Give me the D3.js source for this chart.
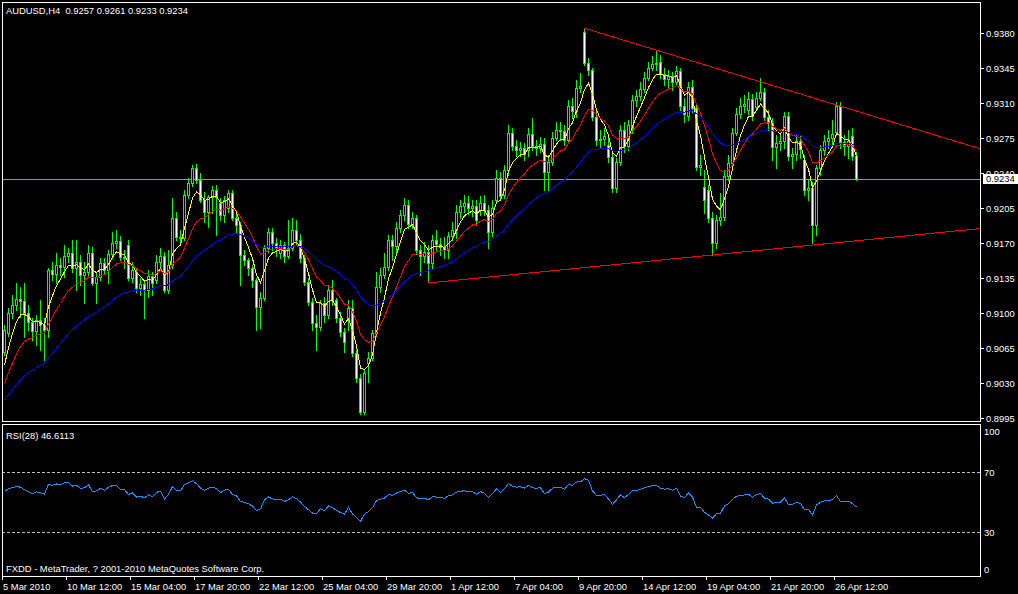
<!DOCTYPE html>
<html><head><meta charset="utf-8">
<script src="https://cdn.jsdelivr.net/npm/d3@7"></script>
<style>
html,body{margin:0;padding:0;background:#000;overflow:hidden}
svg{display:block}
text{font-family:"Liberation Sans",Arial,sans-serif;font-size:9.4px;fill:#fff}
</style></head><body>
<svg id="chart" width="1018" height="594"></svg>
<script>
// ---------------- data ----------------
const headerText = "AUDUSD,H4  0.9257 0.9261 0.9233 0.9234";
const rsiText = "RSI(28) 46.6113";
const footerText = "FXDD - MetaTrader, ? 2001-2010 MetaQuotes Software Corp.";

const opens = [
.9061,.9080,.9100,.9108,.9114,.9112,.9100,.9091,.9082,.9093,
.9088,.9083,.9143,.9139,.9148,.9146,.9157,.9160,.9145,.9151,
.9138,.9141,.9160,.9130,.9136,.9150,.9143,.9159,.9170,.9172,
.9156,.9168,.9135,.9141,.9125,.9129,.9123,.9137,.9133,.9151,
.9157,.9123,.9148,.9195,.9176,.9175,.9218,.9230,.9245,.9233,
.9213,.9201,.9216,.9223,.9210,.9198,.9205,.9220,.9195,.9188,
.9158,.9153,.9145,.9133,.9106,.9115,.9165,.9181,.9170,.9160,
.9168,.9157,.9165,.9183,.9173,.9155,.9131,.9111,.9090,.9086,
.9110,.9098,.9123,.9113,.9095,.9081,.9093,.9105,.9060,.9035,
.9001,.9050,.9055,.9080,.9126,.9138,.9146,.9173,.9167,.9185,
.9198,.9208,.9189,.9195,.9163,.9157,.9161,.9150,.9173,.9169,
.9166,.9163,.9177,.9183,.9201,.9207,.9210,.9205,.9207,.9203,
.9210,.9203,.9181,.9213,.9235,.9218,.9243,.9280,.9267,.9263,
.9265,.9263,.9279,.9267,.9265,.9269,.9241,.9251,.9275,.9283,
.9282,.9273,.9307,.9302,.9325,.9381,.9350,.9343,.9296,.9273,
.9274,.9268,.9256,.9225,.9251,.9283,.9267,.9285,.9313,.9317,
.9324,.9335,.9345,.9349,.9351,.9339,.9334,.9337,.9331,.9342,
.9307,.9297,.9326,.9305,.9246,.9226,.9223,.9195,.9170,.9193,
.9196,.9237,.9250,.9280,.9299,.9307,.9303,.9314,.9306,.9315,
.9321,.9296,.9290,.9266,.9270,.9272,.9297,.9257,.9259,.9272,
.9253,.9223,.9225,.9188,.9245,.9263,.9272,.9275,.9281,.9307,
.9271,.9267,.9277,.9257];

const highs = [
.9088,.9105,.9118,.9130,.9126,.9130,.9108,.9095,.9098,.9113,
.9095,.9145,.9151,.9160,.9155,.9168,.9165,.9173,.9173,.9158,
.9151,.9168,.9166,.9141,.9155,.9155,.9163,.9181,.9183,.9177,
.9163,.9173,.9151,.9145,.9135,.9133,.9143,.9141,.9158,.9165,
.9161,.9163,.9215,.9201,.9183,.9223,.9235,.9248,.9249,.9240,
.9221,.9218,.9227,.9228,.9215,.9217,.9223,.9223,.9201,.9191,
.9163,.9155,.9148,.9135,.9121,.9168,.9185,.9185,.9175,.9173,
.9171,.9193,.9195,.9193,.9179,.9158,.9135,.9115,.9098,.9113,
.9116,.9128,.9133,.9115,.9101,.9085,.9113,.9113,.9063,.9039,
.9043,.9061,.9083,.9141,.9145,.9160,.9178,.9178,.9191,.9203,
.9215,.9213,.9201,.9198,.9168,.9171,.9168,.9178,.9183,.9175,
.9176,.9181,.9191,.9208,.9213,.9218,.9217,.9213,.9213,.9217,
.9218,.9208,.9213,.9243,.9241,.9248,.9288,.9285,.9273,.9271,
.9270,.9285,.9295,.9273,.9276,.9275,.9258,.9281,.9291,.9291,
.9288,.9313,.9315,.9333,.9340,.9385,.9355,.9345,.9303,.9283,
.9285,.9275,.9263,.9255,.9288,.9291,.9293,.9318,.9323,.9331,
.9341,.9351,.9357,.9363,.9358,.9345,.9343,.9341,.9347,.9345,
.9315,.9331,.9333,.9308,.9258,.9243,.9228,.9201,.9198,.9220,
.9243,.9258,.9285,.9305,.9315,.9318,.9321,.9319,.9321,.9335,
.9325,.9303,.9295,.9278,.9278,.9301,.9301,.9265,.9278,.9278,
.9258,.9233,.9231,.9248,.9268,.9278,.9283,.9293,.9311,.9311,
.9278,.9283,.9285,.9261];

const lows = [
.9058,.9077,.9095,.9103,.9096,.9076,.9083,.9073,.9068,.9063,
.9053,.9076,.9133,.9130,.9138,.9136,.9151,.9141,.9123,.9128,
.9110,.9136,.9128,.9110,.9133,.9139,.9130,.9155,.9165,.9153,
.9145,.9133,.9131,.9121,.9118,.9095,.9116,.9118,.9130,.9147,
.9121,.9120,.9145,.9173,.9168,.9173,.9215,.9227,.9230,.9211,
.9191,.9186,.9200,.9178,.9193,.9191,.9201,.9193,.9181,.9128,
.9148,.9138,.9126,.9083,.9085,.9113,.9161,.9163,.9157,.9155,
.9151,.9155,.9163,.9168,.9151,.9128,.9108,.9083,.9063,.9083,
.9091,.9095,.9108,.9091,.9077,.9061,.9083,.9057,.9031,.8999,
.8999,.9031,.9053,.9077,.9121,.9135,.9143,.9153,.9161,.9181,
.9193,.9185,.9185,.9159,.9138,.9151,.9131,.9145,.9163,.9158,
.9155,.9155,.9173,.9175,.9195,.9201,.9199,.9197,.9188,.9198,
.9198,.9165,.9177,.9210,.9213,.9215,.9238,.9263,.9257,.9257,
.9253,.9257,.9263,.9258,.9261,.9223,.9223,.9248,.9273,.9273,
.9268,.9270,.9295,.9296,.9321,.9348,.9338,.9293,.9268,.9265,
.9268,.9251,.9221,.9221,.9248,.9261,.9263,.9280,.9307,.9313,
.9321,.9333,.9343,.9343,.9335,.9328,.9325,.9323,.9328,.9303,
.9291,.9293,.9301,.9243,.9238,.9200,.9191,.9158,.9165,.9188,
.9193,.9233,.9248,.9278,.9295,.9301,.9299,.9293,.9303,.9313,
.9293,.9283,.9253,.9245,.9263,.9265,.9253,.9245,.9253,.9255,
.9218,.9213,.9170,.9178,.9238,.9258,.9265,.9268,.9278,.9265,
.9258,.9255,.9253,.9233];

const closes = [
.9083,.9100,.9108,.9114,.9112,.9100,.9091,.9082,.9093,.9088,
.9083,.9143,.9139,.9148,.9146,.9157,.9160,.9145,.9151,.9138,
.9141,.9160,.9130,.9136,.9150,.9143,.9159,.9170,.9172,.9156,
.9155,.9135,.9143,.9125,.9129,.9123,.9137,.9130,.9151,.9157,
.9123,.9148,.9195,.9176,.9175,.9218,.9230,.9245,.9233,.9213,
.9201,.9216,.9223,.9216,.9198,.9213,.9220,.9195,.9188,.9158,
.9153,.9145,.9133,.9106,.9115,.9165,.9181,.9170,.9165,.9168,
.9157,.9165,.9183,.9173,.9155,.9131,.9111,.9090,.9086,.9110,
.9098,.9123,.9113,.9095,.9081,.9071,.9105,.9060,.9035,.9001,
.9040,.9055,.9080,.9126,.9138,.9146,.9173,.9167,.9185,.9198,
.9208,.9189,.9195,.9163,.9157,.9161,.9150,.9173,.9169,.9166,
.9163,.9177,.9183,.9201,.9207,.9210,.9205,.9207,.9193,.9210,
.9203,.9181,.9205,.9235,.9217,.9243,.9280,.9267,.9263,.9265,
.9259,.9279,.9267,.9265,.9269,.9241,.9251,.9275,.9283,.9282,
.9273,.9307,.9302,.9325,.9327,.9350,.9343,.9296,.9273,.9274,
.9277,.9256,.9225,.9251,.9283,.9267,.9288,.9313,.9317,.9324,
.9335,.9345,.9349,.9350,.9339,.9334,.9337,.9331,.9342,.9307,
.9299,.9326,.9305,.9246,.9248,.9213,.9195,.9170,.9193,.9196,
.9237,.9250,.9280,.9299,.9307,.9309,.9314,.9297,.9315,.9321,
.9296,.9290,.9266,.9270,.9272,.9297,.9257,.9259,.9272,.9264,
.9223,.9225,.9188,.9245,.9263,.9272,.9275,.9279,.9307,.9271,
.9267,.9272,.9257,.9234];

const timeLabels = ["5 Mar 2010","10 Mar 12:00","15 Mar 04:00","17 Mar 20:00","22 Mar 12:00",
  "25 Mar 04:00","29 Mar 20:00","1 Apr 12:00","7 Apr 04:00","9 Apr 20:00","14 Apr 12:00",
  "19 Apr 04:00","21 Apr 20:00","26 Apr 12:00"];
const priceTicks = [0.8995,0.9030,0.9065,0.9100,0.9135,0.9170,0.9205,0.9240,0.9275,0.9310,0.9345,0.9380];
const rsiTicks = [100,70,30,0];
const rsiLevels = [70,30];
const rsiPeriod = 28;
const rsiStart = 57;          // RSI value at the first visible bar
const maPeriods = [5,13,34];  // yellow, red, blue
const maStarts = [0.9048,0.9030,0.9013]; // MA values at the first visible bar
const maColors = ["#ffff00","#ff0000","#0000ff"];
const lastPrice = 0.9234;
const upperTrend = [[145,0.9385],[209,0.9307]];
const lowerTrend = [[106,0.9130],[177,0.9158]];

// ---------------- layout ----------------
const svg = d3.select("#chart").attr("shape-rendering","crispEdges");
svg.append("rect").attr("width",1018).attr("height",594).attr("fill","#000");
const N = closes.length;
const L = 2, R = 980, mainTop = 2, mainBot = 421, rsiTop = 424, rsiBot = 576;
const barsPerLabel = 16;

const x = d3.scaleLinear().domain([0, N-1]).range([4, 4 + 4*(N-1)]);
const y = d3.scaleLinear().domain([0.8995, 0.9380]).range([418, 33]);
const ry = d3.scaleLinear().domain([0, 100]).range([576.7, 426.7]);
const xEnd = x.invert(R);

svg.append("defs").append("clipPath").attr("id","mainClip")
  .append("rect").attr("x",L+1).attr("y",mainTop+1).attr("width",R-L-1).attr("height",mainBot-mainTop-1);
svg.select("defs").append("clipPath").attr("id","rsiClip")
  .append("rect").attr("x",L+1).attr("y",rsiTop+1).attr("width",R-L-1).attr("height",rsiBot-rsiTop-1);

const mainG = svg.append("g").attr("clip-path","url(#mainClip)");

// current price line
const lpY = Math.round(y(lastPrice)) + 0.5;
mainG.append("line").attr("x1",L).attr("x2",R).attr("y1",lpY).attr("y2",lpY)
  .attr("stroke","#8a95a0").attr("stroke-width",1);

// candles
const bars = d3.range(N);
const bodyTop = i => Math.round(y(Math.max(opens[i],closes[i])));
const bodyBot = i => Math.round(y(Math.min(opens[i],closes[i])));
const cg = mainG.append("g");
cg.selectAll("rect.wick").data(bars).join("rect").attr("class","wick")
  .attr("x", i => Math.round(x(i))).attr("width",1)
  .attr("y", i => Math.round(y(highs[i])))
  .attr("height", i => Math.round(y(lows[i])) - Math.round(y(highs[i])) + 1)
  .attr("fill","#00ff00");
cg.selectAll("rect.body").data(bars).join("rect").attr("class","body")
  .attr("x", i => Math.round(x(i)) - 1).attr("width",3)
  .attr("y", bodyTop).attr("height", i => bodyBot(i) - bodyTop(i) + 1)
  .attr("fill","#00ff00");
cg.selectAll("rect.fill").data(bars.filter(i => bodyBot(i) - bodyTop(i) >= 2))
  .join("rect").attr("class","fill")
  .attr("x", i => Math.round(x(i))).attr("width",1)
  .attr("y", i => bodyTop(i) + 1).attr("height", i => bodyBot(i) - bodyTop(i) - 1)
  .attr("fill", i => closes[i] >= opens[i] ? "#000000" : "#ffffff");

// moving averages (exponential, started from the value shown at the first bar)
function ema(vals, period, start){
  const a = 2/(period+1); const out = [start];
  for(let i=1;i<vals.length;i++) out.push(out[i-1] + a*(vals[i]-out[i-1]));
  return out;
}
const maLine = d3.line().x((d,i) => Math.round(x(i)) + 0.5).y(d => y(d));
maPeriods.forEach((p,k) => {
  mainG.append("path").datum(ema(closes,p,maStarts[k]))
    .attr("d", maLine).attr("fill","none").attr("stroke",maColors[k]).attr("stroke-width",1);
});

// trend lines (rays to the right edge)
function ray(pts){
  const [[i0,p0],[i1,p1]] = pts; const s = (p1-p0)/(i1-i0);
  return [[x(i0), y(p0)], [x(xEnd), y(p0 + s*(xEnd - i0))]];
}
[upperTrend, lowerTrend].forEach(t => {
  const r = ray(t);
  mainG.append("line").attr("x1",r[0][0]).attr("y1",r[0][1]).attr("x2",r[1][0]).attr("y2",r[1][1])
    .attr("stroke","#ff0000").attr("stroke-width",1);
});

// RSI
function rsi(vals, period, start){
  let m = 0; for(let i=1;i<vals.length;i++) m += Math.abs(vals[i]-vals[i-1]); m /= (vals.length-1);
  let g = m*start/100, l = m*(1-start/100); const out=[start];
  for(let i=1;i<vals.length;i++){
    const d = vals[i]-vals[i-1];
    g = (g*(period-1) + Math.max(d,0))/period;
    l = (l*(period-1) + Math.max(-d,0))/period;
    out.push(100*g/(g+l));
  }
  return out;
}
const rg = svg.append("g").attr("clip-path","url(#rsiClip)");
rsiLevels.forEach(v => {
  const yy = Math.round(ry(v)) + 0.5;
  rg.append("line").attr("x1",L).attr("x2",R).attr("y1",yy).attr("y2",yy)
    .attr("stroke","#c0c0c0").attr("stroke-dasharray","3,2");
});
rg.append("path").datum(rsi(closes, rsiPeriod, rsiStart))
  .attr("d", d3.line().x((d,i) => Math.round(x(i)) + 0.5).y(d => ry(d)))
  .attr("fill","none").attr("stroke","#1e90ff").attr("stroke-width",1);

// frames
svg.append("rect").attr("x",L+0.5).attr("y",mainTop+0.5).attr("width",R-L).attr("height",mainBot-mainTop)
  .attr("fill","none").attr("stroke","#fff");
svg.append("rect").attr("x",L+0.5).attr("y",rsiTop+0.5).attr("width",R-L).attr("height",rsiBot-rsiTop)
  .attr("fill","none").attr("stroke","#fff");

// price axis
const pa = svg.append("g");
priceTicks.forEach(p => {
  const yy = Math.round(y(p)) + 0.5;
  pa.append("line").attr("x1",R).attr("x2",R+4).attr("y1",yy).attr("y2",yy).attr("stroke","#fff");
  pa.append("text").attr("x",R+6).attr("y",yy).attr("dy","0.35em").text(p.toFixed(4));
});
const boxY = Math.round(y(lastPrice));
pa.append("rect").attr("x",R+3).attr("y",boxY-5).attr("width",35).attr("height",10).attr("fill","#fff");
pa.append("text").attr("x",R+6).attr("y",boxY).attr("dy","0.35em").style("fill","#000").text(lastPrice.toFixed(4));

// RSI axis
rsiTicks.forEach(v => {
  const yy = v === 100 ? rsiTop + 8 : v === 0 ? rsiBot - 6 : Math.round(ry(v)) + 0.5;
  svg.append("text").attr("x",R+4).attr("y",yy).attr("dy","0.35em").text(String(v));
});

// time axis
timeLabels.forEach((t,k) => {
  const xx = Math.round(x(k*barsPerLabel)) - 1.5;
  svg.append("line").attr("x1",xx).attr("x2",xx).attr("y1",rsiBot).attr("y2",rsiBot+4).attr("stroke","#fff");
  svg.append("text").attr("x",xx+0.5).attr("y",590).text(t);
});

// texts
svg.append("text").attr("x",6).attr("y",14).attr("xml:space","preserve").style("white-space","pre").text(headerText);
svg.append("text").attr("x",6).attr("y",439).text(rsiText);
svg.append("text").attr("x",6).attr("y",572).text(footerText);
</script>
</body></html>
